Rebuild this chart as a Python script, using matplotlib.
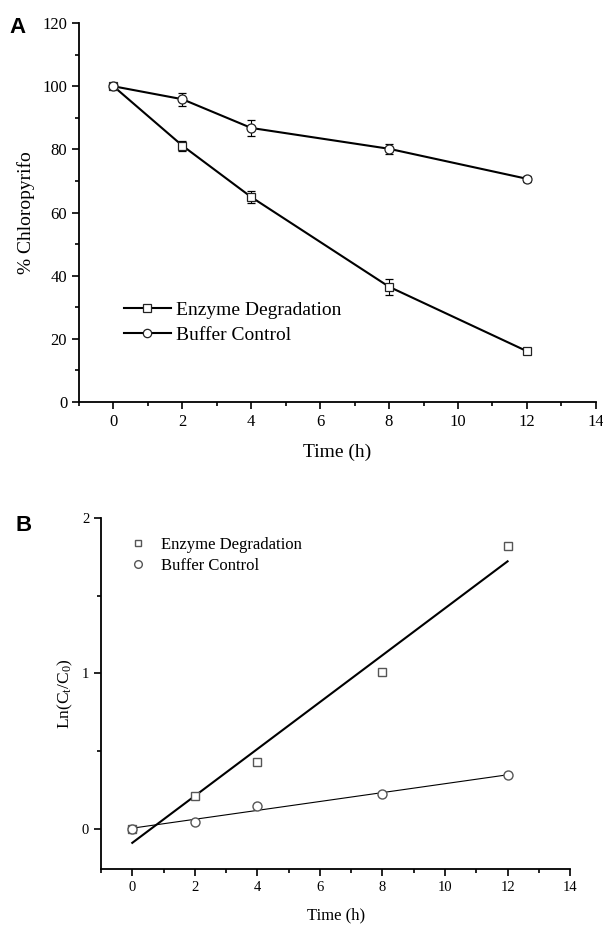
import numpy as np
import matplotlib.pyplot as plt
from matplotlib.lines import Line2D
from matplotlib.ticker import MultipleLocator

plt.rcParams['font.family'] = ['Liberation Serif', 'DejaVu Serif']
plt.rcParams['mathtext.fontset'] = 'custom'
plt.rcParams['mathtext.rm'] = 'Liberation Serif'
plt.rcParams['mathtext.it'] = 'Liberation Serif'

# data
time_h = [0, 2, 4, 8, 12]
enzyme_pct = [100, 81.2, 64.9, 36.5, 16.1]
enzyme_err = [0.8, 1.6, 2.0, 2.5, 0.9]
buffer_pct = [100, 95.9, 86.8, 80.2, 70.7]
buffer_err = [0.8, 2.0, 2.6, 1.6, 1.0]

enzyme_ln = [0.0, 0.21, 0.43, 1.01, 1.82]
buffer_ln = [0.0, 0.045, 0.145, 0.225, 0.345]

labels = ['Enzyme Degradation', 'Buffer Control']

fig = plt.figure(figsize=(6.03, 9.25), dpi=100)

# ---- panel A
ax1 = fig.add_axes([0.131, 0.5654, 0.857, 0.4096])
ax1.errorbar(time_h, enzyme_pct, yerr=enzyme_err, color='black', lw=1.5,
             marker='s', ms=6, mfc='white', mec='#222222', mew=0.9,
             capsize=3, elinewidth=0.8, capthick=0.8)
ax1.errorbar(time_h, buffer_pct, yerr=buffer_err, color='black', lw=1.5,
             marker='o', ms=6.5, mfc='white', mec='#222222', mew=0.9,
             capsize=3, elinewidth=0.8, capthick=0.8)
ax1.set_xlim(-1, 14)
ax1.set_ylim(0, 120)
ax1.xaxis.set_major_locator(MultipleLocator(2))
ax1.xaxis.set_minor_locator(MultipleLocator(1))
ax1.yaxis.set_major_locator(MultipleLocator(20))
ax1.yaxis.set_minor_locator(MultipleLocator(10))
ax1.set_xlabel('Time (h)', fontsize=14, labelpad=10)
ax1.set_ylabel('% Chloropyrifo', fontsize=14, labelpad=5)
handles_a = [
    Line2D([], [], color='black', lw=1.5, marker='s', ms=6, mfc='white',
           mec='#222222', mew=0.9),
    Line2D([], [], color='black', lw=1.5, marker='o', ms=6, mfc='white',
           mec='#222222', mew=0.9),
]
ax1.legend(handles_a, labels, loc='upper left', bbox_to_anchor=(0.2056, 0.674),
           bbox_transform=fig.transFigure, frameon=False, fontsize=14,
           handlelength=2.4, handletextpad=0.3, labelspacing=0.35,
           borderpad=0, borderaxespad=0)

# ---- panel B
ax2 = fig.add_axes([0.1675, 0.0605, 0.778, 0.3795])
t = np.array(time_h)
ke, be = np.polyfit(t, enzyme_ln, 1)
kb, bb = np.polyfit(t, buffer_ln, 1)
ax2.plot(t[[0, -1]], ke * t[[0, -1]] + be, color='black', lw=1.5)
ax2.plot(t[[0, -1]], kb * t[[0, -1]] + bb, color='black', lw=0.8)
ax2.plot(time_h, enzyme_ln, ls='none', marker='s', ms=5.5, mfc='white',
         mec='#555555', mew=1.0, label=labels[0])
ax2.plot(time_h, buffer_ln, ls='none', marker='o', ms=6.5, mfc='white',
         mec='#555555', mew=1.0, label=labels[1])
ax2.set_xlim(-1, 14)
ax2.set_ylim(-0.26, 2)
ax2.xaxis.set_major_locator(MultipleLocator(2))
ax2.xaxis.set_minor_locator(MultipleLocator(1))
ax2.yaxis.set_major_locator(MultipleLocator(1))
ax2.yaxis.set_minor_locator(MultipleLocator(0.5))
ax2.set_xlabel('Time (h)', fontsize=12, labelpad=10)
ax2.set_ylabel('Ln(C$_t$/C$_0$)', fontsize=12.5, labelpad=5)
ax2.legend(loc='upper left', bbox_to_anchor=(0.2156, 0.4195),
           bbox_transform=fig.transFigure, frameon=False, fontsize=12,
           handlelength=1.0, handletextpad=0.86, labelspacing=0.3,
           borderpad=0, borderaxespad=0, markerscale=0.85)

for ax, fs in [(ax1, 12), (ax2, 10.5)]:
    ax.spines['top'].set_visible(False)
    ax.spines['right'].set_visible(False)
    ax.spines['left'].set_linewidth(1.3)
    ax.spines['bottom'].set_linewidth(1.3)
    ax.tick_params(which='major', direction='out', length=5, width=1.2,
                   labelsize=fs)
    ax.tick_params(which='minor', direction='out', length=3, width=1.2)

fig.text(0.015, 0.964, 'A', fontsize=16, fontweight='bold',
         family='Liberation Sans')
fig.text(0.025, 0.426, 'B', fontsize=16, fontweight='bold',
         family='Liberation Sans')

fig.savefig('out.png', dpi=100)
